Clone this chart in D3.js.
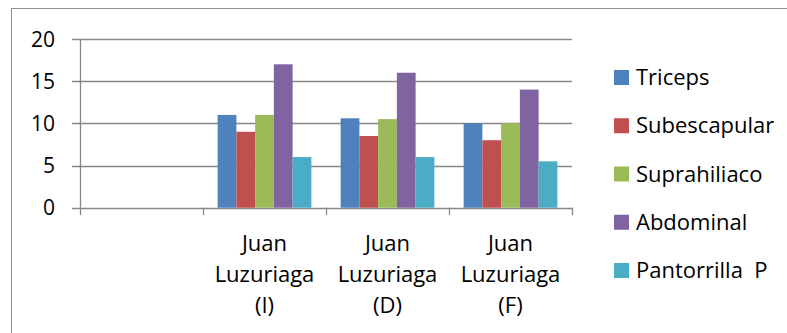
<!DOCTYPE html>
<html><head><meta charset="utf-8">
<script src="https://cdn.jsdelivr.net/npm/d3@7"></script>
<style>body{margin:0;background:#fff}svg{display:block}text{font-family:"Open Sans",sans-serif;fill:#000}</style>
</head><body><svg id="c" width="787" height="333"></svg>
<script>
const categories = ["", "Juan Luzuriaga (I)", "Juan Luzuriaga (D)", "Juan Luzuriaga (F)"];
const categoryLines = [[], ["Juan", "Luzuriaga", "(I)"], ["Juan", "Luzuriaga", "(D)"], ["Juan", "Luzuriaga", "(F)"]];
const seriesNames = ["Triceps", "Subescapular", "Suprahiliaco", "Abdominal", "Pantorrilla  P"];
const triceps = [null, 11, 10.6, 10];
const subescapular = [null, 9, 8.5, 8];
const suprahiliaco = [null, 11, 10.5, 10];
const abdominal = [null, 17, 16, 14];
const pantorrilla = [null, 6, 6, 5.5];
const yTicks = [0, 5, 10, 15, 20];
const colors = ["#4F81BD", "#C0504D", "#9BBB59", "#8064A2", "#4BACC6"];
const seriesValues = [triceps, subescapular, suprahiliaco, abdominal, pantorrilla];

const svg = d3.select("#c");
const grid = "#878787";
// outer border
svg.append("path").attr("d", "M11.5,340 V8.5 H800").attr("fill", "none").attr("stroke", "#8c8c8c").attr("stroke-width", 1);

const x0 = 80, x1 = 572, yTop = 39, yBot = 207.7;
const x = d3.scaleBand().domain(categories).range([x0, x1]).padding(0);
const bw = x.bandwidth();
const xs = d3.scaleBand().domain(seriesNames).range([bw * 0.119, bw * (1 - 0.119)]).padding(0);
const y = d3.scaleLinear().domain([0, 20]).range([yBot, yTop]);

// gridlines
svg.append("g").selectAll("line").data(yTicks).join("line")
  .attr("x1", 72).attr("x2", x1).attr("y1", d => Math.round(y(d)) + 0.5).attr("y2", d => Math.round(y(d)) + 0.5)
  .attr("stroke", grid).attr("stroke-width", 1.3);
// y axis line
svg.append("line").attr("x1", x0 + 0.5).attr("x2", x0 + 0.5).attr("y1", y(20)).attr("y2", y(0)).attr("stroke", grid).attr("stroke-width", 1.3);
// x ticks
const bounds = categories.map(c => x(c)).concat([x1]);
svg.append("g").selectAll("line").data(bounds).join("line")
  .attr("x1", d => Math.round(d) + 0.5).attr("x2", d => Math.round(d) + 0.5)
  .attr("y1", y(0)).attr("y2", y(0) + 7.5).attr("stroke", grid).attr("stroke-width", 1.3);
// y labels
svg.append("g").selectAll("text").data(yTicks).join("text")
  .attr("x", 55).attr("y", d => y(d)).attr("dy", "0.36em").attr("text-anchor", "end")
  .attr("font-size", 21).text(d => d);

// bars
seriesNames.forEach((s, si) => {
  svg.append("g").selectAll("rect").data(categories.map((c, i) => ({c, v: seriesValues[si][i]})).filter(d => d.v != null))
    .join("rect")
    .attr("x", d => x(d.c) + xs(s)).attr("width", xs.bandwidth())
    .attr("y", d => y(d.v)).attr("height", d => y(0) - y(d.v))
    .attr("fill", colors[si]);
});

// category labels
const cl = svg.append("g");
categories.forEach((c, i) => {
  const t = cl.append("text").attr("text-anchor", "middle").attr("font-size", 22);
  categoryLines[i].forEach((ln, j) => {
    t.append("tspan").attr("x", x(c) + bw / 2).attr("y", 251 + j * 31).text(ln);
  });
});

// legend
const lg = svg.append("g");
seriesNames.forEach((s, i) => {
  const cy = 77.5 + i * 48.25;
  lg.append("rect").attr("x", 614).attr("y", cy - 7.5).attr("width", 15).attr("height", 15).attr("fill", colors[i]);
  lg.append("text").attr("x", 636).attr("y", cy + 7.5).attr("font-size", 22).attr("xml:space", "preserve").style("white-space", "pre").text(s);
});
</script></body></html>
